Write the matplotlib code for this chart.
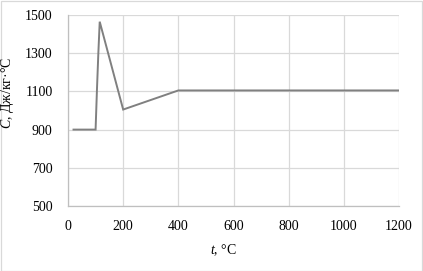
import matplotlib
matplotlib.use("Agg")
import matplotlib.pyplot as plt
from matplotlib.patches import Rectangle

t_vals = [20, 100, 105, 110, 115, 200, 400, 1200]
c_vals = [900, 900, 1110, 1300, 1465, 1005, 1105, 1105]
x_ticks = [0, 200, 400, 600, 800, 1000, 1200]
y_ticks = [500, 700, 900, 1100, 1300, 1500]

plt.rcParams['font.family'] = ['Liberation Serif', 'DejaVu Serif']
plt.rcParams['mathtext.fontset'] = 'custom'
plt.rcParams['mathtext.rm'] = 'Liberation Serif'
plt.rcParams['mathtext.it'] = 'Liberation Serif:italic'

W, H = 423, 271
fig = plt.figure(figsize=(W / 100, H / 100), dpi=100)
ax = fig.add_axes([68 / W, 1 - 206 / H, (399 - 68) / W, (206 - 15) / H])

ax.plot(t_vals, c_vals, color='#808080', lw=1.4, solid_joinstyle='miter')
ax.set_xlim(0, 1200)
ax.set_ylim(500, 1500)
ax.set_xticks(x_ticks)
ax.set_yticks(y_ticks)
ax.grid(True, color='#d9d9d9', lw=0.9)
ax.set_axisbelow(True)
for s in ['top', 'right']:
    ax.spines[s].set_visible(False)
for s in ['left', 'bottom']:
    ax.spines[s].set_color('#bfbfbf')
    ax.spines[s].set_linewidth(0.9)
ax.tick_params(length=0, labelsize=10, colors='black')
ax.tick_params(axis='x', pad=10)
ax.tick_params(axis='y', pad=11)

fig.text(223 / W, 1 - 250 / H, r'$\it{t}$, °C', ha='center', va='center', fontsize=10)
fig.text(8 / W, 1 - 93 / H, '$\\it{C}$, Дж/кг·°С', ha='center', va='center',
         rotation=90, fontsize=10)

fig.patches.append(Rectangle((0.5 / W, 0.5 / H), 1 - 1.5 / W, 1 - 1.5 / H,
                             transform=fig.transFigure, fill=False,
                             edgecolor='#d9d9d9', lw=0.9))
fig.savefig('out.png', dpi=100)
